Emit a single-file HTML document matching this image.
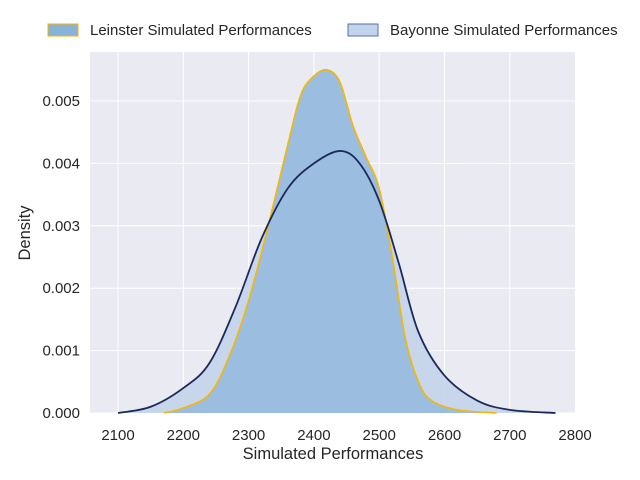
<!DOCTYPE html>
<html><head><meta charset="utf-8"><style>
body{margin:0;background:#fff;}
svg{display:block;font-family:"Liberation Sans",sans-serif;}
</style></head><body>
<svg id="s" width="640" height="480" xmlns="http://www.w3.org/2000/svg">
<rect x="90" y="52" width="485" height="361" fill="#eaeaf2"/>
<g id="grid" stroke="#fff" stroke-width="1"></g>
<g id="curves"></g>
<g id="labels" font-size="15" fill="#262626"></g>
<text x="333" y="459" font-size="16.5" fill="#262626" text-anchor="middle">Simulated Performances</text>
<text transform="translate(30,233) rotate(-90)" font-size="16.5" fill="#262626" text-anchor="middle">Density</text>
<rect x="48" y="24" width="30" height="12" fill="#88b3d9" stroke="#f0b400"/>
<text x="90" y="35" font-size="15" fill="#262626">Leinster Simulated Performances</text>
<rect x="348" y="24" width="30" height="12" fill="#c2d3ee" stroke="#5a6fa0"/>
<text x="390" y="35" font-size="15" fill="#262626">Bayonne Simulated Performances</text>
</svg>
<script>
const X=v=>118+(v-2100)*0.653, Y=d=>413-d*62400;
let g=document.getElementById('grid'),l=document.getElementById('labels'),h='',t='';
for(let v=2100;v<=2800;v+=100){let x=X(v);if(v<2800)h+=`<line x1="${x}" y1="52" x2="${x}" y2="413"/>`;t+=`<text x="${x}" y="440" text-anchor="middle">${v}</text>`;}
for(let i=0;i<=5;i++){let y=Y(i*0.001);h+=`<line x1="90" y1="${y}" x2="575" y2="${y}"/>`;t+=`<text x="80" y="${y+5}" text-anchor="end">${(i*0.001).toFixed(3)}</text>`;}
g.innerHTML=h;l.innerHTML=t;
const L=[[2170,0],[2200,0.00008],[2240,0.0003],[2270,0.0009],[2300,0.0018],[2330,0.003],[2360,0.0043],[2380,0.0051],[2400,0.0054],[2420,0.0055],[2440,0.0053],[2460,0.0046],[2480,0.0041],[2500,0.0036],[2520,0.0025],[2540,0.0012],[2560,0.0005],[2580,0.0002],[2620,0.00005],[2680,0]];
const B=[[2100,0],[2150,0.0001],[2200,0.0004],[2240,0.0008],[2280,0.0017],[2320,0.0028],[2360,0.0036],[2400,0.004],[2440,0.0042],[2470,0.004],[2500,0.0034],[2530,0.0024],[2560,0.0013],[2600,0.0006],[2650,0.0002],[2700,0.00005],[2770,0]];
function path(P){let p=P.map(a=>[X(a[0]),Y(a[1])]);let d=`M${p[0][0]},${p[0][1]}`;
for(let i=0;i<p.length-1;i++){let p0=p[Math.max(0,i-1)],p1=p[i],p2=p[i+1],p3=p[Math.min(p.length-1,i+2)];
d+=` C${p1[0]+(p2[0]-p0[0])/6},${p1[1]+(p2[1]-p0[1])/6} ${p2[0]-(p3[0]-p1[0])/6},${p2[1]-(p3[1]-p1[1])/6} ${p2[0]},${p2[1]}`;}return d;}
const pb=path(B),pl=path(L);
document.getElementById('curves').innerHTML=
`<path d="${pb} L${X(2100)},413Z" fill="#c4d4ea" fill-opacity="0.9"/>`+
`<path d="${pl} L${X(2170)},413Z" fill="#9bbde0"/>`+
`<path d="${pl}" fill="none" stroke="#f5b800" stroke-width="1.6"/>`+
`<path d="${pb}" fill="none" stroke="#1b2a5a" stroke-width="1.8"/>`;
</script>
</body></html>
